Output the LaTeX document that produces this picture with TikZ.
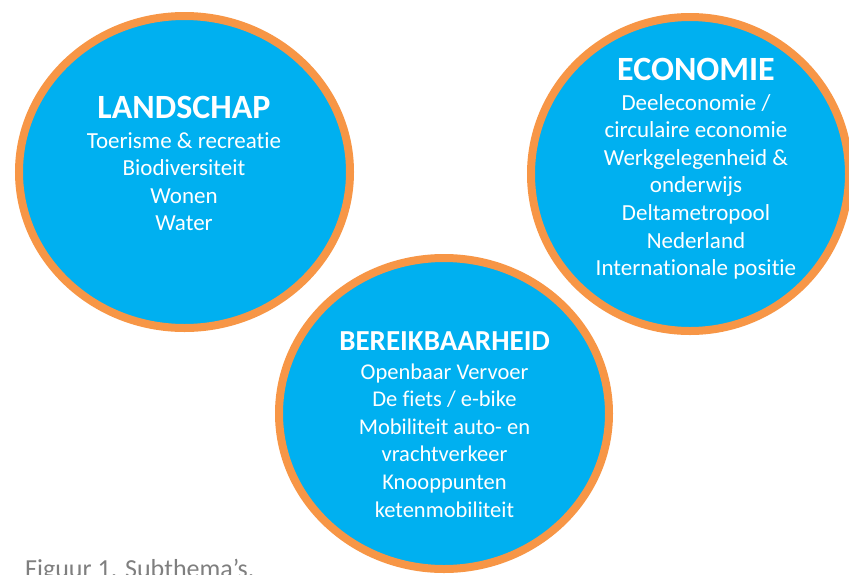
\documentclass[tikz,border=0pt]{standalone}
\usepackage{fontspec}
\setmainfont{Carlito}[Ligatures={TeX,NoCommon}]
\usetikzlibrary{shapes.geometric}
\definecolor{bolblauw}{HTML}{00B0F0}
\definecolor{bolrand}{HTML}{F79646}
\definecolor{bijschrift}{HTML}{7F7F7F}
\tikzset{
  bol/.style={ellipse, draw=bolrand, fill=bolblauw, line width=8pt, inner sep=0pt},
  kop/.style={text=white, font=\bfseries\fontsize{34}{40}\selectfont, anchor=base, inner sep=0pt},
  lijst/.style={text=white, align=center, font=\fontsize{23}{27.6}\selectfont, anchor=base, inner sep=0pt}
}
\begin{document}
\begin{tikzpicture}[x=1pt,y=-1pt]
\useasboundingbox (0,0) rectangle (849,574);

\node[bol, minimum width=331pt, minimum height=312pt] (landschap) at (184.5,172) {};
\node[bol, minimum width=318pt, minimum height=314pt] (economie) at (690,174) {};
\node[bol, minimum width=330pt, minimum height=311pt] (bereik) at (444,413.5) {};

% base = baseline of the last line
\node[kop] (landschapkop) at (184,118) {LANDSCHAP};
\node[lijst] (landschaplijst) at (184,230.8) {Toerisme \& recreatie\\Biodiversiteit\\Wonen\\Water};

\node[kop] (economiekop) at (696,80) {ECONOMIE};
\node[lijst] (economielijst) at (696,275.6) {Deeleconomie /\\circulaire economie\\Werkgelegenheid \&\\onderwijs\\Deltametropool\\Nederland\\Internationale positie};

\node[kop, font=\bfseries\fontsize{29}{34}\selectfont] (bereikkop) at (444.5,350) {BEREIKBAARHEID};
\node[lijst, font=\fontsize{22.5}{27.6}\selectfont] (bereiklijst) at (444.5,517) {Openbaar Vervoer\\De fiets / e-bike\\Mobiliteit auto- en\\vrachtverkeer\\Knooppunten\\ketenmobiliteit};

\node[anchor=base west, text=bijschrift, font=\fontsize{26}{30}\selectfont, inner sep=0pt] (figuur) at (25,577) {Figuur 1. Subthema's.};
\end{tikzpicture}
\end{document}
